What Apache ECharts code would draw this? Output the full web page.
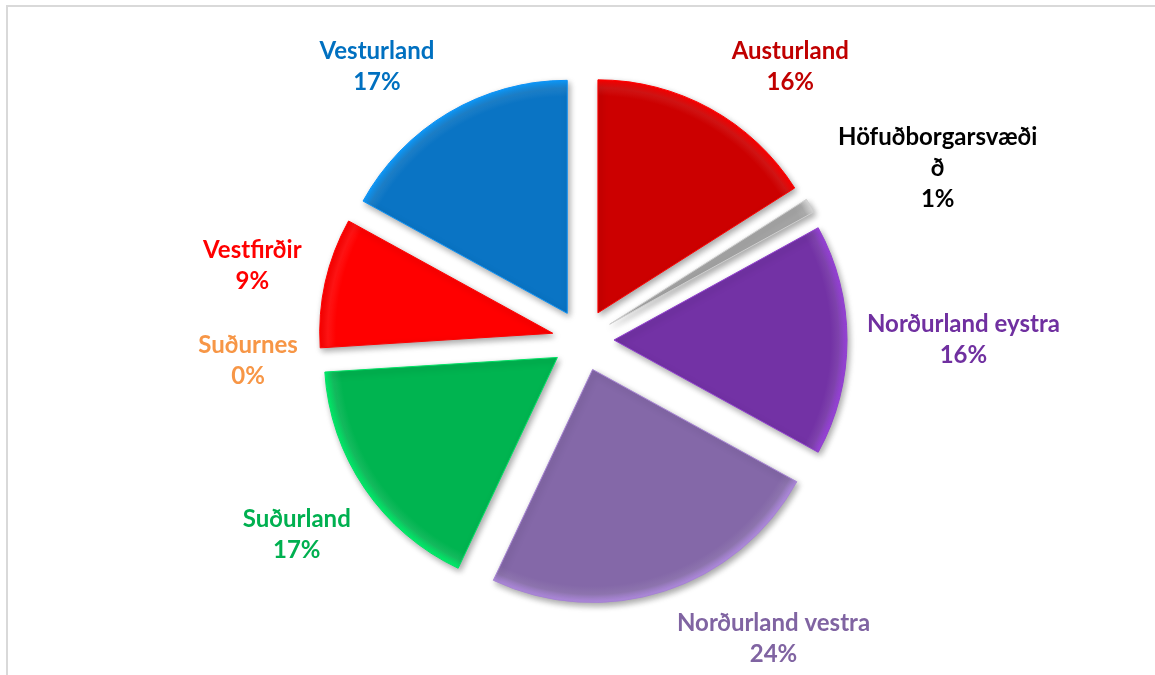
<!DOCTYPE html>
<html>
<head>
<meta charset="utf-8">
<script src="https://cdn.jsdelivr.net/npm/echarts@6/dist/echarts.min.js"></script>
<style>
  html, body { margin: 0; padding: 0; background: #fff; overflow: hidden; }
  #frame { position: absolute; left: 6px; top: 5px; width: 1170px; height: 700px; border: 2px solid #d9d9d9; }
  #chart { position: absolute; left: 0; top: 0; width: 1155px; height: 675px; }
</style>
</head>
<body>
<div id="frame"></div>
<div id="chart"></div>
<script>
const regions = ['Austurland', 'Höfuðborgarsvæðið', 'Norðurland eystra', 'Norðurland vestra', 'Suðurland', 'Suðurnes', 'Vestfirðir', 'Vesturland'];
const shares = [16, 1, 16, 24, 17, 0, 9, 17];
const sliceColors = ['#cc0000', '#a5a5a5', '#7332a5', '#8468a8', '#00b450', '#f79646', '#ff0000', '#0a74c4'];
const labelColors = ['#c00000', '#000000', '#7030a0', '#8064a2', '#00b050', '#f79646', '#ff0000', '#0070c0'];

const W = 1155, H = 675;
const CX = 583, CY = 340, R = 233, EXPLODE = 31, GAP = 20;
const FONT = 'bold 24px Lato';
const WRAP = 205;
const total = shares.reduce((a, b) => a + b, 0);

// wrap a label the way Excel does: by words, and inside a word if it is too long
const ctx = document.createElement('canvas').getContext('2d');
ctx.font = FONT;
function wrap(text) {
    const lines = [];
    let line = '';
    text.split(' ').forEach(word => {
        let trial = line ? line + ' ' + word : word;
        if (ctx.measureText(trial).width <= WRAP) { line = trial; return; }
        if (line) lines.push(line);
        line = '';
        for (const ch of word) {
            if (ctx.measureText(line + ch).width > WRAP) { lines.push(line); line = ''; }
            line += ch;
        }
    });
    lines.push(line);
    return lines.join('\n');
}

function midAngle(i) {
    let before = 0;
    for (let j = 0; j < i; j++) before += shares[j];
    return (before + shares[i] / 2) / total * Math.PI * 2;
}

// put each label just outside its slice, centred, kept inside the chart and off its neighbours
const placed = [];
function placeLabel(p) {
    const i = p.dataIndex;
    const a = midAngle(i);
    const ux = Math.sin(a), uy = -Math.cos(a);
    const rect = p.labelRect;
    const w = rect.width, h = rect.height;
    const clear = R + EXPLODE + GAP;
    const d = clear + Math.abs(ux) * w / 2 + Math.abs(uy) * h / 2;
    let x = CX + ux * d, y = CY + uy * d;
    let moved = false;
    const minY = 36 + h / 2, maxY = H - 5 - h / 2;
    if (y < minY || y > maxY) { y = Math.min(Math.max(y, minY), maxY); moved = true; }
    for (let j = 0; j < i; j++) {
        const b = placed[j];
        if (!b) continue;
        const hitX = Math.abs(b.x - x) < (b.w + w) / 2;
        const hitY = Math.abs(b.y - y) < (b.h + h) / 2 + 24;
        if (hitX && hitY) {
            y = ux > 0 ? b.y + (b.h + h) / 2 + 24 : b.y - (b.h + h) / 2 - 24;
            moved = true;
        }
    }
    if (moved) {
        const cornerY = y - Math.sign(uy) * h / 2 - CY;
        const need = clear * clear - cornerY * cornerY;
        if (need > 0) x = CX + Math.sign(ux) * (Math.sqrt(need) + w / 2);
    }
    placed[i] = { x: x, y: y, w: w, h: h };
    // the anchor stays put when the text is re-aligned to its centre
    const anchorX = p.align === 'left' ? rect.x : p.align === 'right' ? rect.x + w : rect.x + w / 2;
    const curX = anchorX + ux * EXPLODE;
    const curY = rect.y + h / 2 + uy * EXPLODE;
    return { dx: x - curX, dy: y - curY, align: 'center' };
}

function sliceFill(c) {
    return {
        type: 'radial', x: CX, y: CY, r: R, global: true,
        colorStops: [
            { offset: 0, color: c },
            { offset: 0.93, color: c },
            { offset: 0.965, color: echarts.color.lift(c, 0.08) },
            { offset: 1, color: echarts.color.lift(c, -0.35) }
        ]
    };
}

let myChart = echarts.init(document.getElementById('chart'));
let option = {
    animation: false,
    series: [
        {
            type: 'pie',
            center: [CX, CY],
            radius: [0, R],
            startAngle: 90,
            clockwise: true,
            selectedMode: 'multiple',
            selectedOffset: EXPLODE,
            avoidLabelOverlap: false,
            data: regions.map((name, i) => ({
                name: name,
                value: shares[i],
                selected: true,
                itemStyle: {
                    color: sliceFill(sliceColors[i]),
                    borderColor: echarts.color.lift(sliceColors[i], -0.25),
                    borderWidth: shares[i] > 0 ? 1 : 0
                },
                label: { color: labelColors[i] }
            })),
            itemStyle: {
                shadowBlur: 6,
                shadowOffsetX: 2,
                shadowOffsetY: 3,
                shadowColor: 'rgba(0,0,0,0.35)'
            },
            label: {
                show: true,
                position: 'outside',
                formatter: p => wrap(p.name) + '\n' + Math.round(p.percent) + '%',
                fontFamily: 'Lato',
                fontWeight: 'bold',
                fontSize: 24,
                lineHeight: 31,
                overflow: 'none'
            },
            labelLine: { show: false, length: 10, length2: 0 },
            labelLayout: placeLabel,
            emphasis: { disabled: true }
        }
    ]
};
myChart.setOption(option);
</script>
</body>
</html>
